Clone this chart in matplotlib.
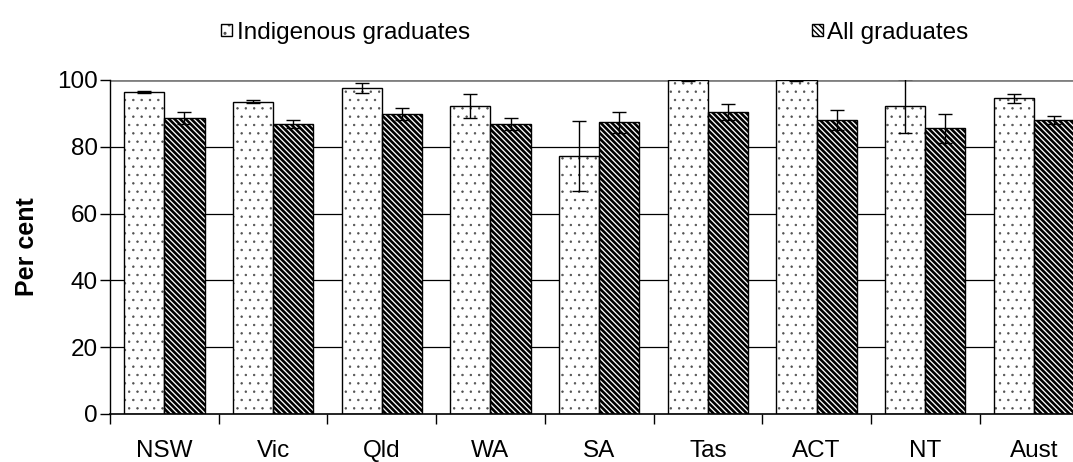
import numpy as np
import matplotlib
matplotlib.use("Agg")
import matplotlib.pyplot as plt
from matplotlib.ticker import FixedLocator

# ===== Data =====
states = ["NSW", "Vic", "Qld", "WA", "SA", "Tas", "ACT", "NT", "Aust"]
indigenous = [96.4, 93.5, 97.7, 92.2, 77.2, 100.0, 100.0, 92.2, 94.5]
indigenous_err = [0.2, 0.4, 1.5, 3.7, 10.5, 0.2, 0.2, 8.1, 1.4]
all_grads = [88.6, 86.8, 89.8, 86.8, 87.3, 90.4, 88.0, 85.5, 88.0]
all_err = [1.8, 1.3, 1.7, 1.9, 3.2, 2.5, 3.0, 4.3, 1.3]

plt.rcParams['font.family'] = ['Liberation Sans', 'DejaVu Sans']
FS = 17.5

fig = plt.figure(figsize=(10.73, 4.62), dpi=100)
ax = fig.add_axes([110 / 1073, 48 / 462, 9 * 108.7 / 1073, 334 / 462])

x = np.arange(len(states)) + 0.5
w = 0.37


def set_hlw(bars, lw):
    for b in bars:
        if hasattr(b, "set_hatch_linewidth"):
            b.set_hatch_linewidth(lw)


# gridlines behind bars
for g in [20, 40, 60, 80]:
    ax.axhline(g, color="black", lw=0.9, zorder=0)
ax.axhline(100, color="#808080", lw=2, zorder=0)

err_kw = dict(ecolor="black", elinewidth=1, capsize=5, capthick=1)

# indigenous: grey dots, then black outline + error bars
with plt.rc_context({"hatch.linewidth": 0.5}):
    dots = ax.bar(x - w / 2, indigenous, w, color="white", edgecolor="#505050",
                  hatch="..", lw=0, zorder=2)
set_hlw(dots, 0.5)
outline = ax.bar(x - w / 2, indigenous, w, yerr=indigenous_err, fill=False,
                 edgecolor="black", lw=1, error_kw=err_kw, zorder=3)

# all graduates: dense thick diagonal stripes
with plt.rc_context({"hatch.linewidth": 1.9}):
    stripes = ax.bar(x + w / 2, all_grads, w, yerr=all_err, color="white",
                     edgecolor="black", hatch="\\" * 6, lw=1, error_kw=err_kw,
                     zorder=2)
set_hlw(stripes, 1.9)

ax.set_xlim(0, len(states))
ax.set_ylim(0, 100)
ax.set_yticks([0, 20, 40, 60, 80, 100])
ax.tick_params(axis="y", labelsize=FS, length=7, width=1, pad=2)

ax.xaxis.set_major_locator(FixedLocator(np.arange(len(states) + 1)))
ax.xaxis.set_minor_locator(FixedLocator(x))
ax.set_xticklabels([], minor=False)
ax.set_xticklabels(states, minor=True)
ax.tick_params(axis="x", which="major", length=7, width=1)
ax.tick_params(axis="x", which="minor", length=0, labelsize=FS, pad=19)

for s in ["top", "right"]:
    ax.spines[s].set_visible(False)
ax.spines["left"].set_linewidth(1)
ax.spines["bottom"].set_linewidth(1.2)

ax.set_ylabel("Per cent", fontsize=18, fontweight="bold", labelpad=13)

ax.legend([(dots[0], outline[0]), stripes[0]],
          ["Indigenous graduates", "All graduates"],
          loc="lower left", bbox_to_anchor=(0.104, 1.08), ncol=2, frameon=False,
          fontsize=FS, handlelength=0.42, handleheight=0.42, handletextpad=0.2,
          columnspacing=14.1, borderaxespad=0)

plt.savefig("out.png", dpi=100)
